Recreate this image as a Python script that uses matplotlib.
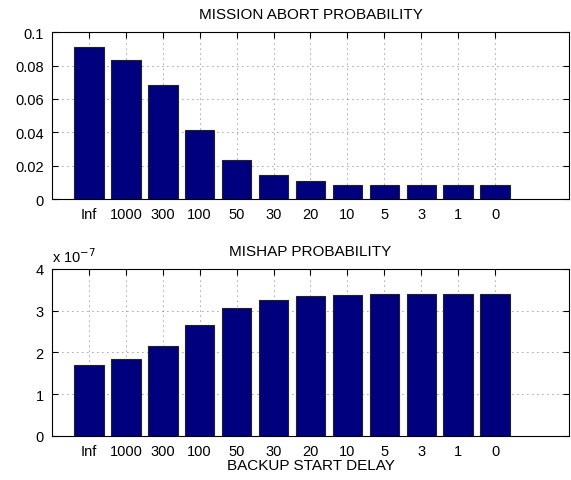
import matplotlib
matplotlib.use("Agg")
import matplotlib.pyplot as plt
from matplotlib.ticker import FuncFormatter

plt.rcParams['font.family'] = ['Liberation Sans', 'DejaVu Sans']

# data
delays = ["Inf", "1000", "300", "100", "50", "30", "20", "10", "5", "3", "1", "0"]
abort_prob = [0.0910, 0.0832, 0.0684, 0.0414, 0.0234, 0.0146, 0.0106, 0.0086,
              0.0082, 0.0082, 0.0082, 0.0082]
mishap_prob = [1.69e-7, 1.85e-7, 2.14e-7, 2.66e-7, 3.05e-7, 3.25e-7, 3.34e-7,
               3.38e-7, 3.40e-7, 3.40e-7, 3.40e-7, 3.40e-7]

x = list(range(1, len(delays) + 1))
bar_color = '#00007f'

fig = plt.figure(figsize=(5.71, 4.81), dpi=100)
ax1 = fig.add_axes([0.091, 0.584, 0.9055, 0.347])
ax2 = fig.add_axes([0.091, 0.092, 0.9055, 0.347])


def style(ax):
    ax.set_xlim(0, 14)
    ax.set_xticks(x)
    ax.set_xticklabels(delays)
    ax.tick_params(direction='in', top=True, right=True, length=4,
                   labelsize=10.5, pad=6)
    ax.grid(True, linestyle=(0, (1, 5)), color='#444444', linewidth=0.6)
    ax.set_axisbelow(True)
    for s in ax.spines.values():
        s.set_linewidth(0.8)


ax1.bar(x, abort_prob, width=0.8, color=bar_color, edgecolor='#222222', linewidth=0.8)
style(ax1)
ax1.set_ylim(0, 0.1)
ax1.set_yticks([0, 0.02, 0.04, 0.06, 0.08, 0.1])
ax1.set_yticklabels(['0', '0.02', '0.04', '0.06', '0.08', '0.1'])
ax1.set_title('MISSION ABORT PROBABILITY', fontsize=11, pad=10)

ax2.bar(x, mishap_prob, width=0.8, color=bar_color, edgecolor='#222222', linewidth=0.8)
style(ax2)
ax2.set_ylim(0, 4e-7)
ax2.set_yticks([0, 1e-7, 2e-7, 3e-7, 4e-7])
ax2.yaxis.set_major_formatter(FuncFormatter(lambda v, p: '%g' % round(v * 1e7, 6)))
ax2.set_title('MISHAP PROBABILITY', fontsize=11, pad=10)
ax2.text(0.0, 1.025, r'x 10$^{-7}$', transform=ax2.transAxes, fontsize=10.5,
         ha='left', va='bottom')
ax2.set_xlabel('BACKUP START DELAY', fontsize=11, labelpad=0)

fig.savefig('out.png', dpi=100)
